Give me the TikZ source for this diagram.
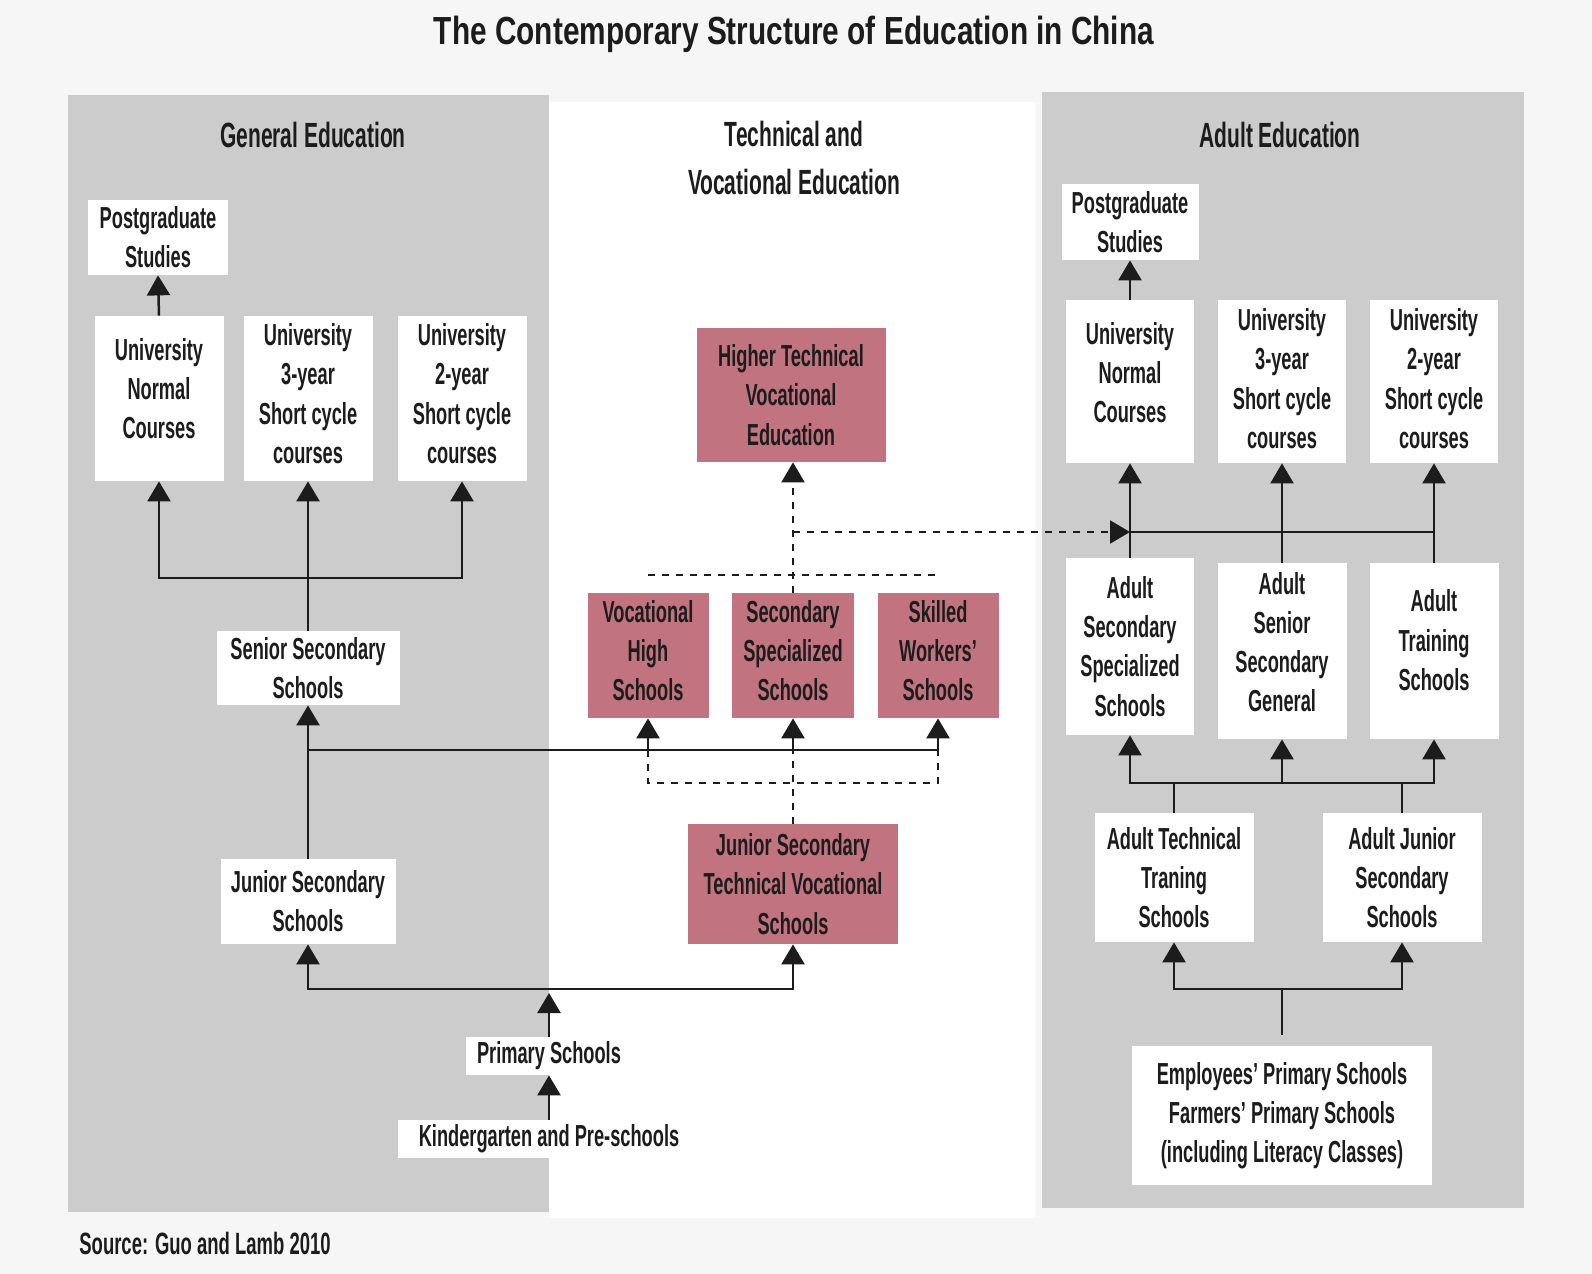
\documentclass[tikz,border=0pt]{standalone}
\usepackage{fontspec}
\setmainfont{Liberation Sans}[FakeStretch=0.6]
\newfontfamily\titlefont{Liberation Sans}[FakeStretch=0.76]
\usetikzlibrary{arrows.meta, calc}
\definecolor{pagebg}{RGB}{246,246,246}
\definecolor{panelgray}{RGB}{204,204,204}
\definecolor{myrose}{RGB}{193,115,128}
\definecolor{myink}{RGB}{28,28,28}
\tikzset{
  box/.style={rectangle, fill=white, inner sep=0pt, align=center, text=myink, font=\fontsize{15.2}{19.6}\selectfont\bfseries},
  rosebox/.style={box, fill=myrose},
  boxsize/.style 2 args={minimum width=#1*0.5pt, minimum height=#2*0.5pt},
  lift/.style={text depth=#1pt},
  heading/.style={inner sep=0pt, align=center, text=myink, font=\fontsize{17.5}{24}\selectfont\bfseries},
  arrow/.style={-{Triangle[width=11.5pt, length=10pt]}, line width=1.25pt, color=myink},
  line/.style={line width=1.25pt, color=myink},
  dline/.style={line width=1.05pt, color=myink, dash pattern=on 3.5pt off 3.5pt},
  darrow/.style={dline, -{Triangle[width=11.5pt, length=10pt]}}
}

\begin{document}
\begin{tikzpicture}[x=0.5pt, y=-0.5pt]
  % Page and panels
  \fill[pagebg] (0,0) rectangle (1592,1274);
  \useasboundingbox (0,0) rectangle (1592,1274);
  \fill[panelgray] (68,95) rectangle (549,1212);
  \fill[white] (549,102) rectangle (1035,1218);
  \fill[panelgray] (1042,92) rectangle (1524,1208);

  % Title and headings
  \node[inner sep=0pt, text=myink, anchor=base, font=\titlefont\bfseries\fontsize{19.6}{24}\selectfont] (title) at (794,45) {The Contemporary Structure of Education in China};
  \node[heading, anchor=base] (hgen) at (313,147) {General Education};
  \node[heading] (htech) at (794,158) {Technical and\\Vocational Education};
  \node[heading, anchor=base] (hadult) at (1280,147) {Adult Education};
  \node[inner sep=0pt, text=myink, anchor=base west, font=\fontsize{15.4}{19}\selectfont\bfseries] (source) at (79,1254) {Source: Guo and Lamb 2010};

  % General Education
  \node[box, boxsize={140}{75}] (gpg) at (158,237.5) {Postgraduate\\Studies};
  \node[box, boxsize={129}{165}, lift=10] (gnorm) at (159,398.5) {University\\Normal\\Courses};
  \node[box, boxsize={129}{165}, lift=5] (gthree) at (308,398.5) {University\\3-year\\Short cycle\\courses};
  \node[box, boxsize={129}{165}, lift=5] (gtwo) at (462,398.5) {University\\2-year\\Short cycle\\courses};
  \node[box, boxsize={183}{74}] (gsenior) at (308,668) {Senior Secondary\\Schools};
  \node[box, boxsize={175}{85}] (gjunior) at (308,901.5) {Junior Secondary\\Schools};
  \node[box, boxsize={166}{38}] (primary) at (549,1056) {Primary Schools};
  \node[box, boxsize={302}{38}] (kinder) at (549,1139) {Kindergarten and Pre-schools};

  % Technical and Vocational Education
  \node[rosebox, boxsize={189}{134}] (higher) at (791,395) {Higher Technical\\Vocational\\Education};
  \node[rosebox, boxsize={121}{125}, lift=5] (vhigh) at (648,655.5) {Vocational\\High\\Schools};
  \node[rosebox, boxsize={122}{125}, lift=5] (sspec) at (793,655.5) {Secondary\\Specialized\\Schools};
  \node[rosebox, boxsize={121}{125}, lift=5] (skilled) at (938,655.5) {Skilled\\Workers’\\Schools};
  \node[rosebox, boxsize={210}{120}] (jtech) at (793,884) {Junior Secondary\\Technical Vocational\\Schools};

  % Adult Education
  \node[box, boxsize={137}{76}] (apg) at (1130,222) {Postgraduate\\Studies};
  \node[box, boxsize={128}{163}, lift=9] (anorm) at (1130,381.5) {University\\Normal\\Courses};
  \node[box, boxsize={128}{163}, lift=3] (athree) at (1282,381.5) {University\\3-year\\Short cycle\\courses};
  \node[box, boxsize={128}{163}, lift=3] (atwo) at (1434,381.5) {University\\2-year\\Short cycle\\courses};
  \node[box, boxsize={128}{177}] (asspec) at (1130,646.5) {Adult\\Secondary\\Specialized\\Schools};
  \node[box, boxsize={129}{176}, lift=9] (asenior) at (1282,651) {Adult\\Senior\\Secondary\\General};
  \node[box, boxsize={129}{176}, lift=11] (atrain) at (1434,651) {Adult\\Training\\Schools};
  \node[box, boxsize={159}{129}] (atech) at (1174,877.5) {Adult Technical\\Traning\\Schools};
  \node[box, boxsize={159}{129}] (ajunior) at (1402,877.5) {Adult Junior\\Secondary\\Schools};
  \node[box, boxsize={300}{139}] (employ) at (1282,1115.5) {Employees’ Primary Schools\\Farmers’ Primary Schools\\(including Literacy Classes)};

  % General connectors
  \coordinate (gfork) at (308,578);
  \coordinate (vfork) at (308,750);
  \draw[arrow] (gnorm.north) -- (gpg.south);
  \draw[arrow] (gsenior.north) -- (gthree.south);
  \draw[arrow] (gfork) -| (gnorm.south);
  \draw[arrow] (gfork) -| (gtwo.south);
  \draw[arrow] (gjunior.north) -- (gsenior.south);
  \draw[arrow] (vfork) -| (vhigh.south);
  \draw[arrow] (vfork) -| (skilled.south);
  \draw[arrow] (vfork -| sspec) -- (sspec.south);

  % Vocational dashed links
  \coordinate (dbot) at (793,783);
  \coordinate (hfork) at (793,532);
  \draw[dline] (jtech.north) -- (vfork -| jtech);
  \draw[dline] (vfork -| vhigh) |- (dbot) -| (vfork -| skilled);
  \draw[dline] ($(vhigh.north)+(0,-18)$) -- ($(skilled.north)+(0,-18)$);
  \draw[darrow] (sspec.north) -- (sspec.north |- higher.south);
  \draw[darrow] (hfork) -- (hfork -| anorm);

  % Adult connectors
  \coordinate (afork) at (1130,532);
  \coordinate (lfork) at (1282,783);
  \coordinate (efork) at (1282,989);
  \draw[arrow] (anorm.north) -- (apg.south);
  \draw[arrow] (asspec.north) -- (anorm.south);
  \draw[arrow] (asenior.north) -- (athree.south);
  \draw[line] (afork) -| (atrain.north);
  \draw[arrow] (afork -| atwo) -- (atwo.south);
  \draw[arrow] (lfork) -| (asspec.south);
  \draw[arrow] (lfork) -| (atrain.south);
  \draw[arrow] (lfork) -- (asenior.south);
  \draw[line] (atech.north) -- (atech.north |- lfork);
  \draw[line] (ajunior.north) -- (ajunior.north |- lfork);
  \draw[arrow] (efork) -| (atech.south);
  \draw[arrow] (efork) -| (ajunior.south);
  \draw[line, shorten <=5.5pt] (employ.north) -- (efork);

  % Primary level
  \coordinate (pfork) at (549,989);
  \draw[arrow] (kinder.north) -- (primary.south);
  \draw[arrow] (primary.north) -- ([yshift=-2pt]pfork);
  \draw[arrow] (pfork) -| (gjunior.south);
  \draw[arrow] (pfork) -| (jtech.south);
\end{tikzpicture}
\end{document}
